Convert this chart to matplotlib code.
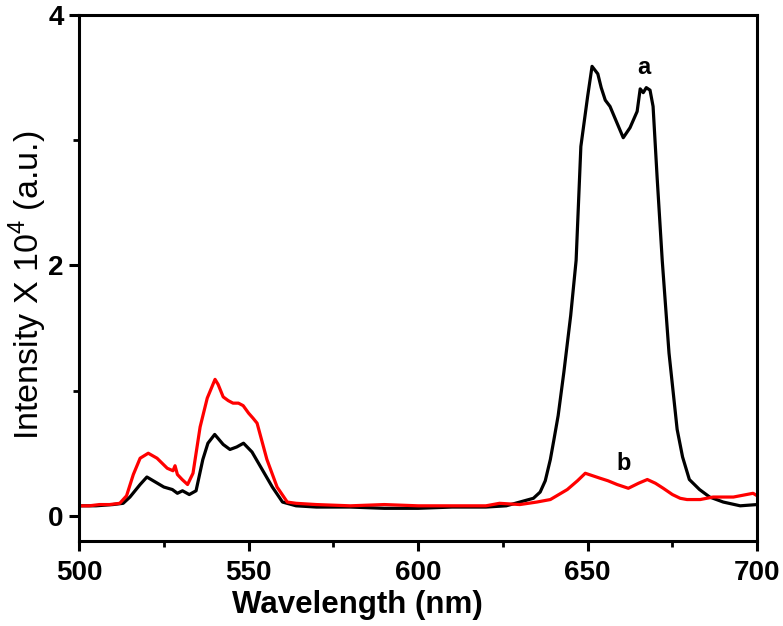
import matplotlib
matplotlib.use("Agg")
import matplotlib.pyplot as plt
from matplotlib.ticker import MultipleLocator

plt.rcParams['font.family'] = ['Liberation Sans', 'DejaVu Sans']
plt.rcParams['font.weight'] = 'bold'

# -------------------------------
# curve a (black)
# -------------------------------
wl_a = [500, 505, 510, 513, 515, 518, 520, 522.5, 525, 527.5, 529, 530.5, 532.5, 534.5,
        536.5, 538, 540, 542.5, 544.5, 546.5, 548.5, 551, 554, 557, 560, 564, 570, 580,
        590, 600, 610, 620, 626, 630, 634, 636, 637.5, 639, 640, 641.3, 643, 645, 646.6,
        648, 650, 651.3, 653, 654, 655.2, 656.6, 658, 660.5, 662.5, 664.6, 665.5, 666.4,
        667.3, 668.4, 669.3, 670.5, 672, 674, 676.4, 678, 680, 683, 686, 690, 695, 700]
int_a = [0.08, 0.08, 0.09, 0.10, 0.15, 0.25, 0.31, 0.27, 0.23, 0.21, 0.18, 0.20, 0.17, 0.20,
         0.45, 0.58, 0.65, 0.57, 0.53, 0.55, 0.58, 0.51, 0.37, 0.23, 0.11, 0.08, 0.07, 0.07,
         0.06, 0.06, 0.07, 0.07, 0.08, 0.11, 0.14, 0.19, 0.28, 0.45, 0.60, 0.80, 1.15, 1.60, 2.04,
         2.95, 3.35, 3.59, 3.53, 3.42, 3.32, 3.27, 3.18, 3.02, 3.10, 3.23, 3.41, 3.38,
         3.42, 3.40, 3.27, 2.70, 2.04, 1.30, 0.69, 0.47, 0.29, 0.21, 0.15, 0.11, 0.08, 0.09]

# -------------------------------
# curve b (red)
# -------------------------------
wl_b = [500, 503, 506, 509, 512, 514, 516, 518, 520.4, 523, 526, 527.7, 528.3, 529, 530.4,
        532, 533.6, 535.7, 537.8, 540.1, 541, 542.5, 544, 545.4, 547, 548.4, 550, 551.3,
        552.5, 555.4, 558.4, 561.4, 564, 570, 580, 590, 600, 610, 620, 624, 630, 635, 639,
        644, 647, 649.3, 653.7, 656, 658.7, 662, 665, 667.6, 670, 672.3, 675, 677.3,
        679.3, 683.2, 687, 693, 698.8, 700]
int_b = [0.08, 0.08, 0.09, 0.09, 0.10, 0.16, 0.33, 0.46, 0.50, 0.46, 0.38, 0.36, 0.40, 0.33, 0.29,
         0.25, 0.34, 0.71, 0.94, 1.09, 1.05, 0.95, 0.92, 0.90, 0.90, 0.88, 0.82, 0.78,
         0.74, 0.45, 0.23, 0.11, 0.10, 0.09, 0.08, 0.09, 0.08, 0.08, 0.08, 0.10, 0.09, 0.11, 0.13,
         0.21, 0.28, 0.34, 0.30, 0.28, 0.25, 0.22, 0.26, 0.29, 0.26, 0.22, 0.17, 0.14,
         0.13, 0.13, 0.15, 0.15, 0.18, 0.16]

fig = plt.figure(figsize=(7.83, 6.26), dpi=100)
ax = fig.add_axes([0.101, 0.136, 0.866, 0.840])

ax.plot(wl_a, int_a, color='black', lw=2.3)
ax.plot(wl_b, int_b, color='red', lw=2.3)

ax.text(666.7, 3.58, 'a', fontsize=17, fontweight='bold', ha='center', va='center')
ax.text(660.5, 0.42, 'b', fontsize=17, fontweight='bold', ha='center', va='center')

ax.set_xlim(500, 700)
ax.set_ylim(-0.2, 4)
ax.xaxis.set_major_locator(MultipleLocator(50))
ax.xaxis.set_minor_locator(MultipleLocator(25))
ax.yaxis.set_major_locator(MultipleLocator(2))
ax.yaxis.set_minor_locator(MultipleLocator(1))

for s in ax.spines.values():
    s.set_linewidth(2.2)
ax.tick_params(which='major', direction='out', length=7, width=2.2, labelsize=20)
ax.tick_params(axis='x', which='major', pad=7)
ax.tick_params(axis='y', which='major', pad=4)
ax.tick_params(which='minor', direction='out', length=4, width=2.0)
for lab in ax.get_xticklabels() + ax.get_yticklabels():
    lab.set_fontweight('bold')

ax.set_xlabel("Wavelength (nm)", fontsize=22.5, fontweight='bold')
ax.xaxis.set_label_coords(0.41, -0.093)
ax.set_ylabel("Intensity X 10$^\\mathregular{4}$ (a.u.)", fontsize=24.5, fontweight='medium')
ax.yaxis.set_label_coords(-0.045, 0.485)

plt.savefig("out.png", dpi=100)
